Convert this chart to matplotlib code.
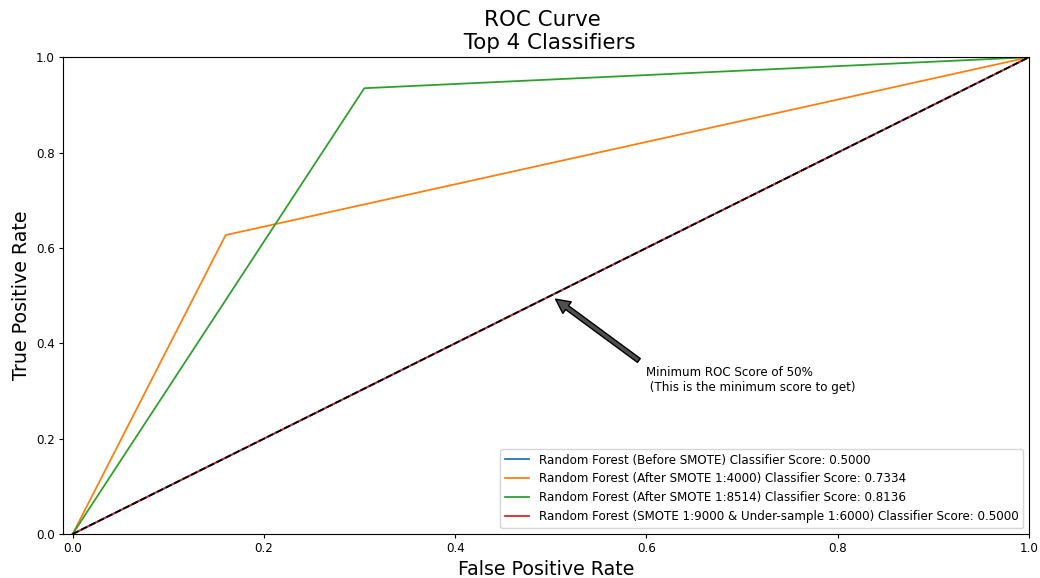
import matplotlib
matplotlib.use('Agg')
import matplotlib.pyplot as plt

# Pontos das curvas ROC (fpr, tpr)
fpr_before = [0.0, 1.0]
tpr_before = [0.0, 1.0]
fpr_4000 = [0.0, 0.16, 1.0]
tpr_4000 = [0.0, 0.627, 1.0]
fpr_8514 = [0.0, 0.305, 1.0]
tpr_8514 = [0.0, 0.935, 1.0]
fpr_under = [0.0, 1.0]
tpr_under = [0.0, 1.0]

labels = [
    'Random Forest (Before SMOTE) Classifier Score: 0.5000',
    'Random Forest (After SMOTE 1:4000) Classifier Score: 0.7334',
    'Random Forest (After SMOTE 1:8514) Classifier Score: 0.8136',
    'Random Forest (SMOTE 1:9000 & Under-sample 1:6000) Classifier Score: 0.5000',
]

# a figura original foi renderizada numa escala menor
s = 0.857
plt.rcParams['font.size'] = 10 * s
plt.rcParams['lines.linewidth'] = 1.5 * s
plt.rcParams['xtick.major.size'] = 3.5 * s
plt.rcParams['ytick.major.size'] = 3.5 * s
plt.rcParams['xtick.major.pad'] = 3.5 * s
plt.rcParams['ytick.major.pad'] = 3.5 * s
plt.rcParams['axes.labelpad'] = 4.0 * s

fig = plt.figure(figsize=(10.4, 5.78), dpi=100)
fig.subplots_adjust(left=0.0606, right=0.9894, top=0.901, bottom=0.076)
plt.title('ROC Curve \n Top 4 Classifiers', fontsize=18 * s)
plt.plot(fpr_before, tpr_before, label=labels[0])
plt.plot(fpr_4000, tpr_4000, label=labels[1])
plt.plot(fpr_8514, tpr_8514, label=labels[2])
plt.plot(fpr_under, tpr_under, label=labels[3])
plt.plot([0, 1], [0, 1], 'k--')
plt.axis([-0.01, 1, 0, 1])
plt.xlabel('False Positive Rate', fontsize=16 * s)
plt.ylabel('True Positive Rate', fontsize=16 * s)
plt.annotate('Minimum ROC Score of 50% \n (This is the minimum score to get)',
             xy=(0.5, 0.5), xytext=(0.6, 0.3),
             arrowprops=dict(facecolor='#4F4F4F', shrink=0.05,
                             width=4 * s, headwidth=12 * s, headlength=12 * s))
plt.legend()
plt.savefig('out.png', dpi=100)
